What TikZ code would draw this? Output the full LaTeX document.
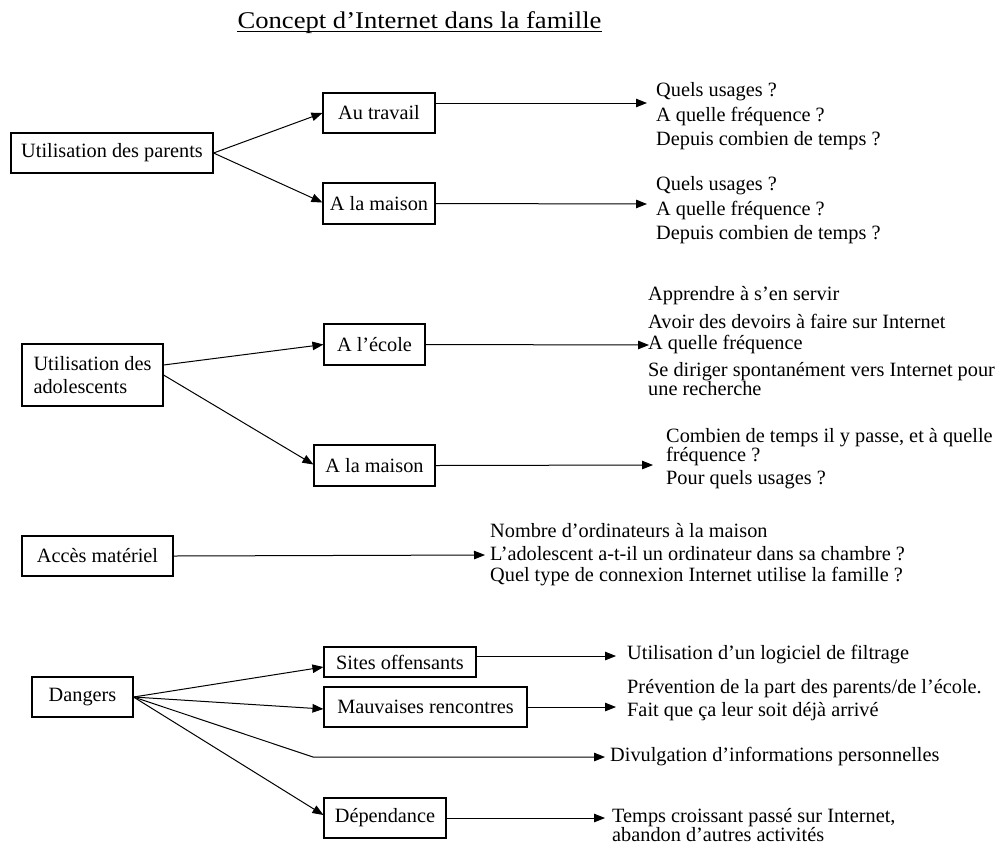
\documentclass[tikz,border=0pt]{standalone}
\usepackage{fontspec}
\setmainfont{Liberation Serif}
\newfontfamily\titlefont[FakeStretch=1.11]{Liberation Serif}
\usetikzlibrary{arrows.meta}
\begin{document}
\begin{tikzpicture}[x=1pt,y=-1pt,
  box/.style={draw, line width=1.1pt, inner sep=0pt, font=\fontsize{20.3}{23}\selectfont, align=center},
  lbl/.style={anchor=west, inner sep=0pt, font=\fontsize{20.3}{19}\selectfont, align=left},
  conn/.style={line width=1pt, -{Triangle[length=11pt,width=8.5pt]}},
  bare/.style={line width=1pt}]
\useasboundingbox (0,0) rectangle (998,847);
\fill[white] (0,0) rectangle (998,847);

% title
\node[inner sep=0pt, font=\titlefont\fontsize{24}{28}\selectfont] (title) at (419.5,23) {Concept d’Internet dans la famille};
\draw[line width=1pt] ([yshift=-3pt]title.base west) -- ([yshift=-3pt]title.base east);

% boxes
\node[box, minimum width=202pt, minimum height=40pt] (P) at (112,153) {Utilisation des parents};
\node[box, minimum width=112pt, minimum height=40pt] (AT) at (379,113) {Au travail};
\node[box, minimum width=112pt, minimum height=41pt] (AM1) at (379,203.5) {A la maison};

\node[box, align=left, minimum width=141pt, minimum height=62pt] (AD) at (92.5,375) {Utilisation des\\adolescents};
\node[box, minimum width=101pt, minimum height=41pt] (EC) at (374.5,344.5) {A l’école};
\node[box, minimum width=121pt, minimum height=41pt] (AM2) at (374.5,465.5) {A la maison};

\node[box, minimum width=151pt, minimum height=40pt] (AC) at (97.5,556) {Accès matériel};

\node[box, minimum width=101pt, minimum height=40pt] (D) at (82.5,697) {Dangers};
\node[box, minimum width=152pt, minimum height=30pt] (SO) at (400,662) {Sites offensants};
\node[box, minimum width=203pt, minimum height=40pt] (MR) at (425.5,707) {Mauvaises rencontres};
\node[box, minimum width=122pt, minimum height=40pt] (DE) at (385,818) {Dépendance};

% text blocks
\node[lbl] (g1a) at (656,92) {Quels usages ?};
\node[lbl] (g1b) at (656,117) {A quelle fréquence ?};
\node[lbl] (g1c) at (656,141) {Depuis combien de temps ?};

\node[lbl] (g2a) at (656,186) {Quels usages ?};
\node[lbl] (g2b) at (656,211) {A quelle fréquence ?};
\node[lbl] (g2c) at (656,235) {Depuis combien de temps ?};

\node[lbl] (g3a) at (648,296) {Apprendre à s’en servir};
\node[lbl] (g3b) at (648,321) {Avoir des devoirs à faire sur Internet};
\node[lbl] (g3c) at (648,345) {A quelle fréquence};
\node[lbl] (g3d) at (648,379) {Se diriger spontanément vers Internet pour\\une recherche};

\node[lbl] (g4a) at (666,447) {Combien de temps il y passe, et à quelle\\fréquence ?};
\node[lbl] (g4b) at (666,480) {Pour quels usages ?};

\node[lbl] (g5a) at (490,531) {Nombre d’ordinateurs à la maison};
\node[lbl] (g5b) at (490,554) {L’adolescent a-t-il un ordinateur dans sa chambre ?};
\node[lbl] (g5c) at (490,577) {Quel type de connexion Internet utilise la famille ?};

\node[lbl] (s1) at (627,655) {Utilisation d’un logiciel de filtrage};
\node[lbl] (m1) at (627,689) {Prévention de la part des parents/de l’école.};
\node[lbl] (m2) at (627,712) {Fait que ça leur soit déjà arrivé};
\node[lbl] (dv) at (610,757) {Divulgation d’informations personnelles};
\node[lbl] (dp) at (612,825.5) {Temps croissant passé sur Internet,\\abandon d’autres activités};

% arrow tips / free ends
\coordinate (t1) at (647,103);
\coordinate (t2) at (647,204);
\coordinate (t3) at (649,345);
\coordinate (t4) at (653,465);
\coordinate (t5) at (485,555);
\coordinate (t6) at (616,656);
\coordinate (t7) at (616,707);
\coordinate (t8) at (605,757);
\coordinate (t9) at (605,818);
\coordinate (bend) at (313,757);

% connectors
\draw[conn] (P.east) -- (AT.west);
\draw[conn] (P.east) -- ([yshift=1pt]AM1.west);
\draw[conn] ([yshift=10pt]AT.east) -- (t1);
\draw[conn] (AM1.east) -- (t2);

\draw[conn] ([yshift=10pt]AD.east) -- (EC.west);
\draw[conn] (AD.east) -- ([yshift=1pt]AM2.west);
\draw[conn] (EC.east) -- (t3);
\draw[conn] (AM2.east) -- (t4);

\draw[conn] (AC.east) -- (t5);

\draw[conn] (D.east) -- ([yshift=-5pt]SO.west);
\draw[conn] (D.east) -- ([yshift=-2pt]MR.west);
\draw[conn] (D.east) -- (bend) -- (t8);
\draw[conn] (D.east) -- ([yshift=3pt]DE.west);
\draw[conn] ([yshift=6pt]SO.east) -- (t6);
\draw[conn] (MR.east) -- (t7);
\draw[conn] (DE.east) -- (t9);
\end{tikzpicture}
\end{document}
